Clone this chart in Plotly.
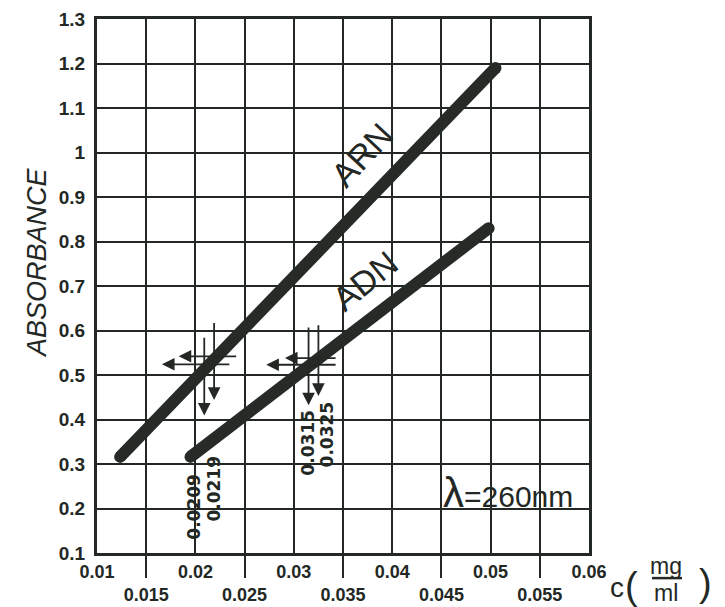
import plotly.graph_objects as go

# ---- data ----
conc_arn = [0.01235, 0.0505]
abs_arn = [0.316, 1.19]
conc_adn = [0.0195, 0.0498]
abs_adn = [0.316, 0.83]

x_tick_vals = [0.01, 0.015, 0.02, 0.025, 0.03, 0.035, 0.04, 0.045, 0.05, 0.055, 0.06]
x_tick_text = ["0.01", "<br>0.015", "0.02", "<br>0.025", "0.03", "<br>0.035",
               "0.04", "<br>0.045", "0.05", "<br>0.055", "0.06"]
x_long_ticks = [0.015, 0.025, 0.035, 0.045, 0.055]
y_tick_vals = [0.1, 0.2, 0.3, 0.4, 0.5, 0.6, 0.7, 0.8, 0.9, 1.0, 1.1, 1.2, 1.3]
y_tick_text = ["0.1", "0.2", "0.3", "0.4", "0.5", "0.6", "0.7", "0.8", "0.9", "1", "1.1", "1.2", "1.3"]

# vertical reading arrows: (x, y_start, y_tip)
v_arrows_x = [0.0209, 0.0219, 0.0315, 0.0325]
v_arrows_top = [0.587, 0.62, 0.61, 0.615]
v_arrows_tip = [0.409, 0.444, 0.432, 0.453]
# horizontal reading arrows: (y, x_start, x_tip)
h_arrows_y = [0.542, 0.524, 0.538, 0.523]
h_arrows_start = [0.0243, 0.0236, 0.0344, 0.0344]
h_arrows_tip = [0.0183, 0.0166, 0.0291, 0.0272]

# rotated value labels
val_labels = ["0.0209", "0.0219", "0.0315", "0.0325"]
val_label_x = [0.0199, 0.0219, 0.0315, 0.0334]
val_label_y = [0.205, 0.245, 0.347, 0.367]

INK = "#232824"
LINE = "#262b27"
FONT = "Liberation Sans, Arial, sans-serif"

fig = go.Figure()
fig.add_trace(go.Scatter(x=conc_arn, y=abs_arn, mode="lines+markers", name="ARN",
                         line=dict(color=LINE, width=12),
                         marker=dict(color=LINE, size=12), showlegend=False))
fig.add_trace(go.Scatter(x=conc_adn, y=abs_adn, mode="lines+markers", name="ADN",
                         line=dict(color=LINE, width=12),
                         marker=dict(color=LINE, size=12), showlegend=False))

ann = []
for xv, yt, ytip in zip(v_arrows_x, v_arrows_top, v_arrows_tip):
    ann.append(dict(x=xv, y=ytip, ax=xv, ay=yt, xref="x", yref="y", axref="x", ayref="y",
                    text="", showarrow=True, arrowhead=2, arrowsize=1.4, arrowwidth=1.8,
                    arrowcolor=INK))
for yv, xs, xtip in zip(h_arrows_y, h_arrows_start, h_arrows_tip):
    ann.append(dict(x=xtip, y=yv, ax=xs, ay=yv, xref="x", yref="y", axref="x", ayref="y",
                    text="", showarrow=True, arrowhead=2, arrowsize=1.4, arrowwidth=1.8,
                    arrowcolor=INK))
for t, xv, yv in zip(val_labels, val_label_x, val_label_y):
    ann.append(dict(x=xv, y=yv, xref="x", yref="y", text=t, showarrow=False, textangle=-90,
                    xanchor="center", yanchor="middle",
                    font=dict(family="DejaVu Sans, sans-serif", size=17, color=INK, weight="bold")))

ann.append(dict(x=0.0369, y=0.995, xref="x", yref="y", text="ARN", showarrow=False,
                xanchor="center", yanchor="middle",
                textangle=-47, font=dict(family=FONT, size=34, color=INK)))
ann.append(dict(x=0.0372, y=0.712, xref="x", yref="y", text="ADN", showarrow=False,
                xanchor="center", yanchor="middle",
                textangle=-39, font=dict(family=FONT, size=34, color=INK)))
ann.append(dict(x=0.0518, y=0.237, xref="x", yref="y", xanchor="center", yanchor="middle",
                text="<span style='font-size:42px'>λ</span>=260nm", showarrow=False,
                font=dict(family=FONT, size=30, color=INK)))

# axis titles (paper coordinates relative to the plot area)
def paper_note(text, x, y, size, angle=0):
    return dict(x=x, y=y, xref="paper", yref="paper", text=text, showarrow=False,
                xanchor="center", yanchor="middle", textangle=angle,
                font=dict(family=FONT, size=size, color=INK))

ann.append(paper_note("<i>ABSORBANCE</i>", -0.122, 0.545, 27, -90))
ann.append(paper_note("c", 1.057, -0.064, 28))
ann.append(paper_note("(", 1.087, -0.062, 38))
ann.append(paper_note("mg", 1.157, -0.025, 23))
ann.append(paper_note("ml", 1.157, -0.074, 23))
ann.append(paper_note(")", 1.236, -0.056, 38))

# the page body adds an 8px offset; size the figure so the plot lands where the reference has it
fig.update_layout(
    width=717, height=599,
    margin=dict(l=89, r=136, t=11, b=54, autoexpand=False),
    paper_bgcolor="white", plot_bgcolor="white",
    annotations=ann,
    shapes=[dict(type="line", xref="paper", yref="paper", x0=1.128, x1=1.189,
                 y0=-0.047, y1=-0.047, line=dict(color=INK, width=2.5))],
)
fig.update_xaxes(range=[0.01, 0.06], tickvals=x_tick_vals, ticktext=x_tick_text,
                 automargin=False,
                 showgrid=True, gridcolor=INK, gridwidth=2,
                 showline=True, linecolor=INK, linewidth=3, mirror=True,
                 ticks="", zeroline=False,
                 tickfont=dict(family=FONT, size=18, color=INK, weight="bold"),
                 minor=dict(tickvals=x_long_ticks, ticks="outside", ticklen=22,
                            tickwidth=2, tickcolor=INK, showgrid=False))
fig.update_yaxes(range=[0.1, 1.3], tickvals=y_tick_vals, ticktext=y_tick_text,
                 automargin=False,
                 showgrid=True, gridcolor=INK, gridwidth=2,
                 showline=True, linecolor=INK, linewidth=3, mirror=True,
                 ticks="", zeroline=False, ticklabelstandoff=5,
                 tickfont=dict(family=FONT, size=19, color=INK, weight="bold"))

fig.write_html("out.html")
